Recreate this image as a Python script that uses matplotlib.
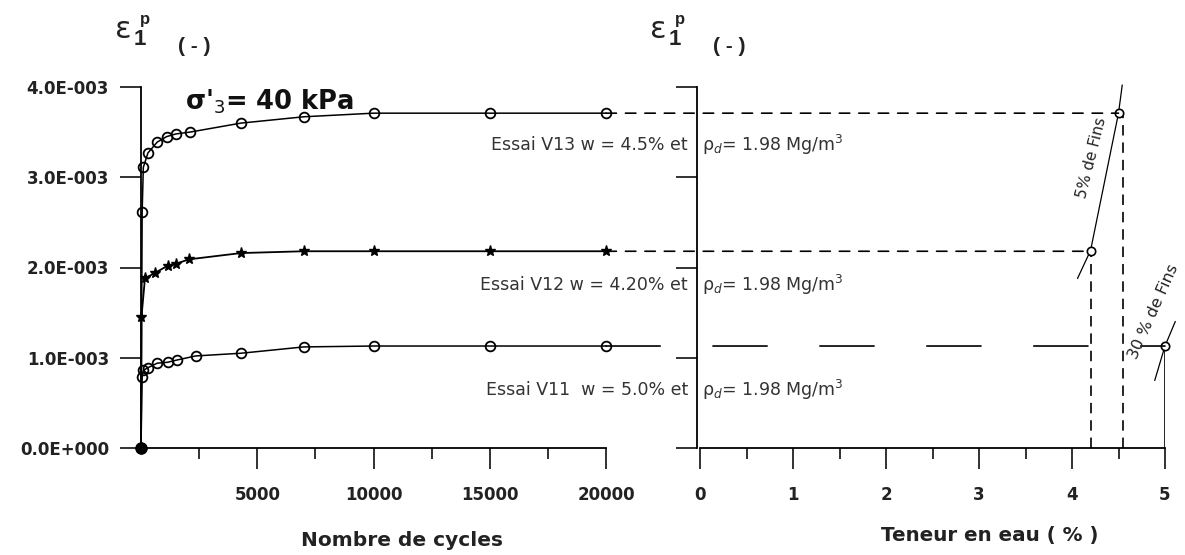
import numpy as np
import matplotlib
matplotlib.use("Agg")
import matplotlib.pyplot as plt
from matplotlib.patches import ConnectionPatch

# deformation axiale permanente (x 1e-3) en fonction du nombre de cycles
cycles_v13 = [0, 50, 100, 300, 700, 1100, 1500, 2100, 4300, 7000, 10000, 15000, 20000]
eps_v13 = [0, 2.62, 3.11, 3.27, 3.39, 3.45, 3.48, 3.50, 3.60, 3.67, 3.71, 3.71, 3.71]
cycles_v12 = [0, 20, 170, 600, 1150, 1500, 2050, 4300, 7000, 10000, 15000, 20000]
eps_v12 = [0, 1.45, 1.88, 1.94, 2.02, 2.04, 2.09, 2.16, 2.18, 2.18, 2.18, 2.18]
cycles_v11 = [0, 50, 100, 300, 700, 1150, 1550, 2350, 4300, 7000, 10000, 15000, 20000]
eps_v11 = [0, 0.79, 0.86, 0.89, 0.94, 0.95, 0.975, 1.02, 1.05, 1.12, 1.13, 1.13, 1.13]

# teneur en eau des essais (%) : V13, V12, V11
w_essais = [4.5, 4.2, 5.0]
w_rappel = [4.55, 4.2]          # lignes de rappel verticales V13, V12

# courbes "5% de Fins" et "30 % de Fins"
fins5_w = [4.06, 4.2, 4.5, 4.54]
fins5_eps = [1.88, 2.19, 3.71, 4.02]
fins30_w = [4.89, 5.0, 5.11]
fins30_eps = [0.75, 1.13, 1.40]

yticks = [0, 1e-3, 2e-3, 3e-3, 4e-3]
ytick_labels = ["0.0E+000", "1.0E-003", "2.0E-003", "3.0E-003", "4.0E-003"]
xticks_cycles = [5000, 10000, 15000, 20000]
xticks_w = [0, 1, 2, 3, 4, 5]

textes_essais = [
    ("Essai V13 w = 4.5% et", 145),
    ("Essai V12 w = 4.20% et", 285),
    ("Essai V11  w = 5.0% et", 390),
]

W, H = 1185, 555


def px(x, y):
    return x / W, 1 - y / H


def style_axe(ax):
    ax.spines["top"].set_visible(False)
    ax.spines["right"].set_visible(False)
    for s in ["left", "bottom"]:
        ax.spines[s].set_linewidth(1.3)
    ax.set_ylim(0, 4e-3)
    ax.set_yticks(yticks)
    ax.tick_params(which="both", direction="out", width=1.3, colors="#222222",
                   labelsize=12)
    ax.tick_params(axis="y", length=15, pad=8)
    ax.tick_params(axis="x", which="major", length=15, pad=12)
    ax.tick_params(axis="x", which="minor", length=8)
    for lab in ax.get_xticklabels() + ax.get_yticklabels():
        lab.set_fontweight("bold")
    ax.patch.set_visible(False)


def draw():
    plt.rcParams["font.family"] = ["DejaVu Sans"]
    plt.rcParams["mathtext.fontset"] = "dejavusans"
    plt.rcParams["lines.scale_dashes"] = False

    e13 = np.array(eps_v13) * 1e-3
    e12 = np.array(eps_v12) * 1e-3
    e11 = np.array(eps_v11) * 1e-3
    e_fin = [e13[-1], e12[-1], e11[-1]]

    fig = plt.figure(figsize=(W / 100, H / 100), dpi=100)
    ax1 = fig.add_axes([141 / W, 107 / H, 465 / W, 361 / H])
    ax2 = fig.add_axes([700 / W, 107 / H, 465 / W, 361 / H])

    # panneau gauche : nombre de cycles
    ax1.set_xlim(0, 20000)
    ax1.set_xticks(xticks_cycles)
    ax1.set_xticks([2500, 7500, 12500, 17500], minor=True)
    ax1.set_yticklabels(ytick_labels)
    style_axe(ax1)

    ax1.plot(cycles_v13, e13, color="k", lw=1.1, marker="o", mfc="none",
             ms=7, mew=1.3, clip_on=False)
    ax1.plot(cycles_v12, e12, color="k", lw=1.3, marker="*", mfc="k",
             ms=8, clip_on=False)
    ax1.plot(cycles_v11, e11, color="k", lw=1.1, marker="o", mfc="none",
             ms=7, mew=1.3, clip_on=False)
    ax1.plot(cycles_v13[0], e13[0], "o", color="k", ms=8, clip_on=False, zorder=5)

    # panneau droit : teneur en eau
    ax2.set_xlim(0, 5)
    ax2.set_xticks(xticks_w)
    ax2.set_xticks(np.arange(0.5, 5, 1), minor=True)
    ax2.set_yticklabels([])
    style_axe(ax2)
    ax2.spines["left"].set_position(("outward", 2.5))

    ax2.vlines(w_rappel, 0, e_fin[:2], colors="k", lw=1.2,
               linestyles=[(0, (7.5, 5))])
    ax2.vlines(w_essais[2], 0, e_fin[2], colors="k", lw=1.2)
    ax2.plot(fins5_w, np.array(fins5_eps) * 1e-3, color="k", lw=0.9, clip_on=False)
    ax2.plot(fins30_w, np.array(fins30_eps) * 1e-3, color="k", lw=0.9, clip_on=False)
    ax2.plot(w_essais, e_fin, "o", mfc="white", mec="k", ms=6, mew=1.2,
             clip_on=False, zorder=5)

    # prolongements horizontaux entre les deux panneaux
    styles = [(0, (7.5, 6.5)), (0, (7.5, 6.5)), (0, (39, 38))]
    for k in range(3):
        con = ConnectionPatch(xyA=(cycles_v13[-1], e_fin[k]), coordsA=ax1.transData,
                              xyB=(w_essais[k], e_fin[k]), coordsB=ax2.transData,
                              color="k", lw=1.2, linestyle=styles[k])
        fig.add_artist(con)

    # textes
    for txt, y in textes_essais:
        fig.text(*px(688, y), txt, ha="right", va="center", fontsize=12.5,
                 color="#333333")
        fig.text(*px(702, y), r"ρ$_d$= 1.98 Mg/m$^3$", ha="left", va="center",
                 fontsize=12.5, color="#333333")

    for dx in [0, 535]:
        fig.text(*px(115 + dx, 38), "ε", fontsize=22, color="#222222",
                 ha="left", va="baseline")
        fig.text(*px(134 + dx, 45), "1", fontsize=16, fontweight="bold",
                 family="Liberation Sans", color="#222222", ha="left", va="baseline")
        fig.text(*px(140 + dx, 24), "p", fontsize=12, fontweight="bold",
                 family="Liberation Sans", color="#222222", ha="left", va="baseline")
        fig.text(*px(178 + dx, 52), "( - )", fontsize=15, fontweight="bold",
                 family="Liberation Sans", color="#222222", ha="left", va="baseline")

    fig.text(*px(185, 110), r"σ'$_3$= 40 kPa", fontsize=18.5, fontweight="bold",
             color="#111111", ha="left", va="baseline")

    fig.text(*px(402, 541), "Nombre de cycles", fontsize=14.5, fontweight="bold",
             color="#222222", ha="center", va="center")
    fig.text(*px(990, 535), "Teneur en eau ( % )", fontsize=14.3, fontweight="bold",
             color="#222222", ha="center", va="center")

    fig.text(*px(1092, 158), "5% de Fins", fontsize=11, rotation=76,
             color="#222222", ha="center", va="center", rotation_mode="anchor")
    fig.text(*px(1154, 312), "30 % de Fins", fontsize=11.5, rotation=66,
             color="#222222", ha="center", va="center", rotation_mode="anchor")

    fig.savefig("out.png", dpi=100)


if __name__ == "__main__":
    draw()
